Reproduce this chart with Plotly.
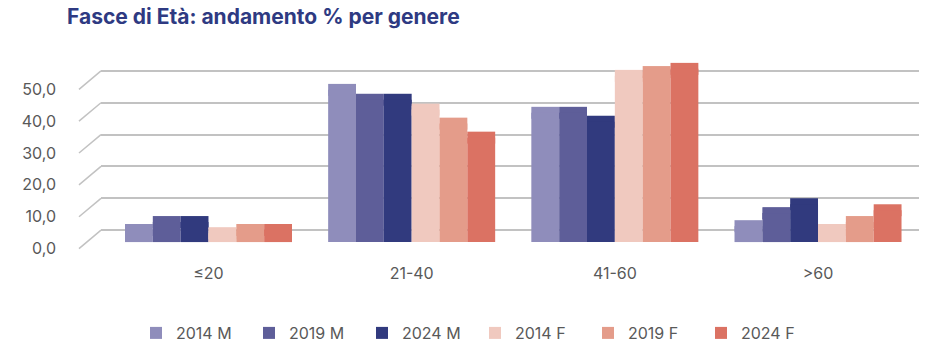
import plotly.graph_objects as go

categories = ["≤20", "21-40", "41-60", ">60"]
series_names = ["2014 M", "2019 M", "2024 M", "2014 F", "2019 F", "2024 F"]
m2014 = [3.8, 47.8, 40.6, 5.0]
m2019 = [6.3, 44.7, 40.6, 9.1]
m2024 = [6.3, 44.7, 37.8, 11.9]
f2014 = [2.8, 41.6, 52.2, 3.8]
f2019 = [3.8, 37.2, 53.4, 6.3]
f2024 = [3.8, 32.8, 54.4, 10.0]
series_values = [m2014, m2019, m2024, f2014, f2019, f2024]
tick_values = [0, 10, 20, 30, 40, 50]

colors = ["#8F8DBB", "#5E5E99", "#313A7E", "#F0C9BF", "#E49C8A", "#DB7263"]
FONT = "Inter, sans-serif"
GREY = "#595959"
GRID = "#C2C2C2"

W, H = 940, 360
ML, MR, MT, MB = 101, 21, 55, 100
PLOT_W = W - ML - MR
PLOT_H = H - MT - MB

# pseudo-3D geometry (value units, 3.2 px per unit)
PX = 3.2
TOP_DEPTH = 6 / PX        # visible top face of bars
BACK_SHIFT = 12 / PX      # back wall sits above the bar plane
FRONT_SHIFT = -6.5 / PX   # front edge (labels) sits below the bar plane
BASE_PX = 243
r0 = (BASE_PX - (H - MB)) / PX
r1 = (BASE_PX - MT) / PX

fig = go.Figure()
for name, vals, col in zip(series_names, series_values, colors):
    # top face drawn first, overlapping the front face to avoid seams
    fig.add_trace(go.Bar(x=categories, y=[2 * TOP_DEPTH] * len(vals),
                         base=[v - TOP_DEPTH for v in vals],
                         marker_color=col, marker_line_width=0, offsetgroup=name,
                         showlegend=False, hoverinfo="skip"))
    fig.add_trace(go.Bar(x=categories, y=vals, name=name, marker_color=col,
                         marker_line_width=0, offsetgroup=name,
                         hovertemplate="%{x}: %{y:.1f}<extra>" + name + "</extra>"))

# invisible carriers so the wall / label axes are drawn
for ax in ["y2", "y3"]:
    fig.add_trace(go.Scatter(x=[categories[0]], y=[None], yaxis=ax, mode="markers",
                             showlegend=False, hoverinfo="skip"))

# slanted side-wall lines
x_front = (79 - ML) / PLOT_W
shapes = []
for g in tick_values:
    shapes.append(dict(type="line", xref="paper", yref="y",
                       x0=x_front, y0=g + FRONT_SHIFT, x1=0, y1=g + BACK_SHIFT,
                       line=dict(color=GRID, width=1.5), layer="below"))

fig.update_layout(
    width=W, height=H,
    margin=dict(l=ML, r=MR, t=MT, b=MB),
    paper_bgcolor="white", plot_bgcolor="white",
    barmode="group", bargap=0.178, bargroupgap=0,
    separators=",.",
    font=dict(family=FONT, color=GREY, size=15),
    title=dict(text="Fasce di Età: andamento % per genere",
               font=dict(family=FONT, size=21, color="#2E3A82", weight=700),
               xref="container", x=67 / W, xanchor="left",
               yref="container", y=1 - 17 / H, yanchor="middle"),
    xaxis=dict(range=[-0.529, 3.497], showgrid=False, zeroline=False,
               showline=False, ticks="", tickfont=dict(size=16, color=GREY),
               ticklabelstandoff=3),
    yaxis=dict(range=[r0, r1], showgrid=False, zeroline=False,
               showticklabels=False, ticks=""),
    yaxis2=dict(range=[r0 - BACK_SHIFT, r1 - BACK_SHIFT], overlaying="y",
                anchor="x", tickvals=tick_values, showgrid=True,
                gridcolor=GRID, gridwidth=1.5, showticklabels=False,
                zeroline=False, ticks=""),
    yaxis3=dict(range=[r0 - FRONT_SHIFT, r1 - FRONT_SHIFT], overlaying="y",
                anchor="x", side="left", tickvals=tick_values,
                tickformat=".1f", showgrid=False, zeroline=False, ticks="",
                tickfont=dict(size=16, color=GREY), ticklabelstandoff=44),
    shapes=shapes,
    legend=dict(orientation="h", x=(136 - ML) / PLOT_W, xanchor="left",
                y=-(333 - (H - MB)) / PLOT_H, yanchor="middle",
                font=dict(size=16, color=GREY), entrywidth=68,
                traceorder="normal"),
    showlegend=True,
)

fig.write_html("out.html", config={"displayModeBar": False},
               post_script="document.body.style.margin='0';")
